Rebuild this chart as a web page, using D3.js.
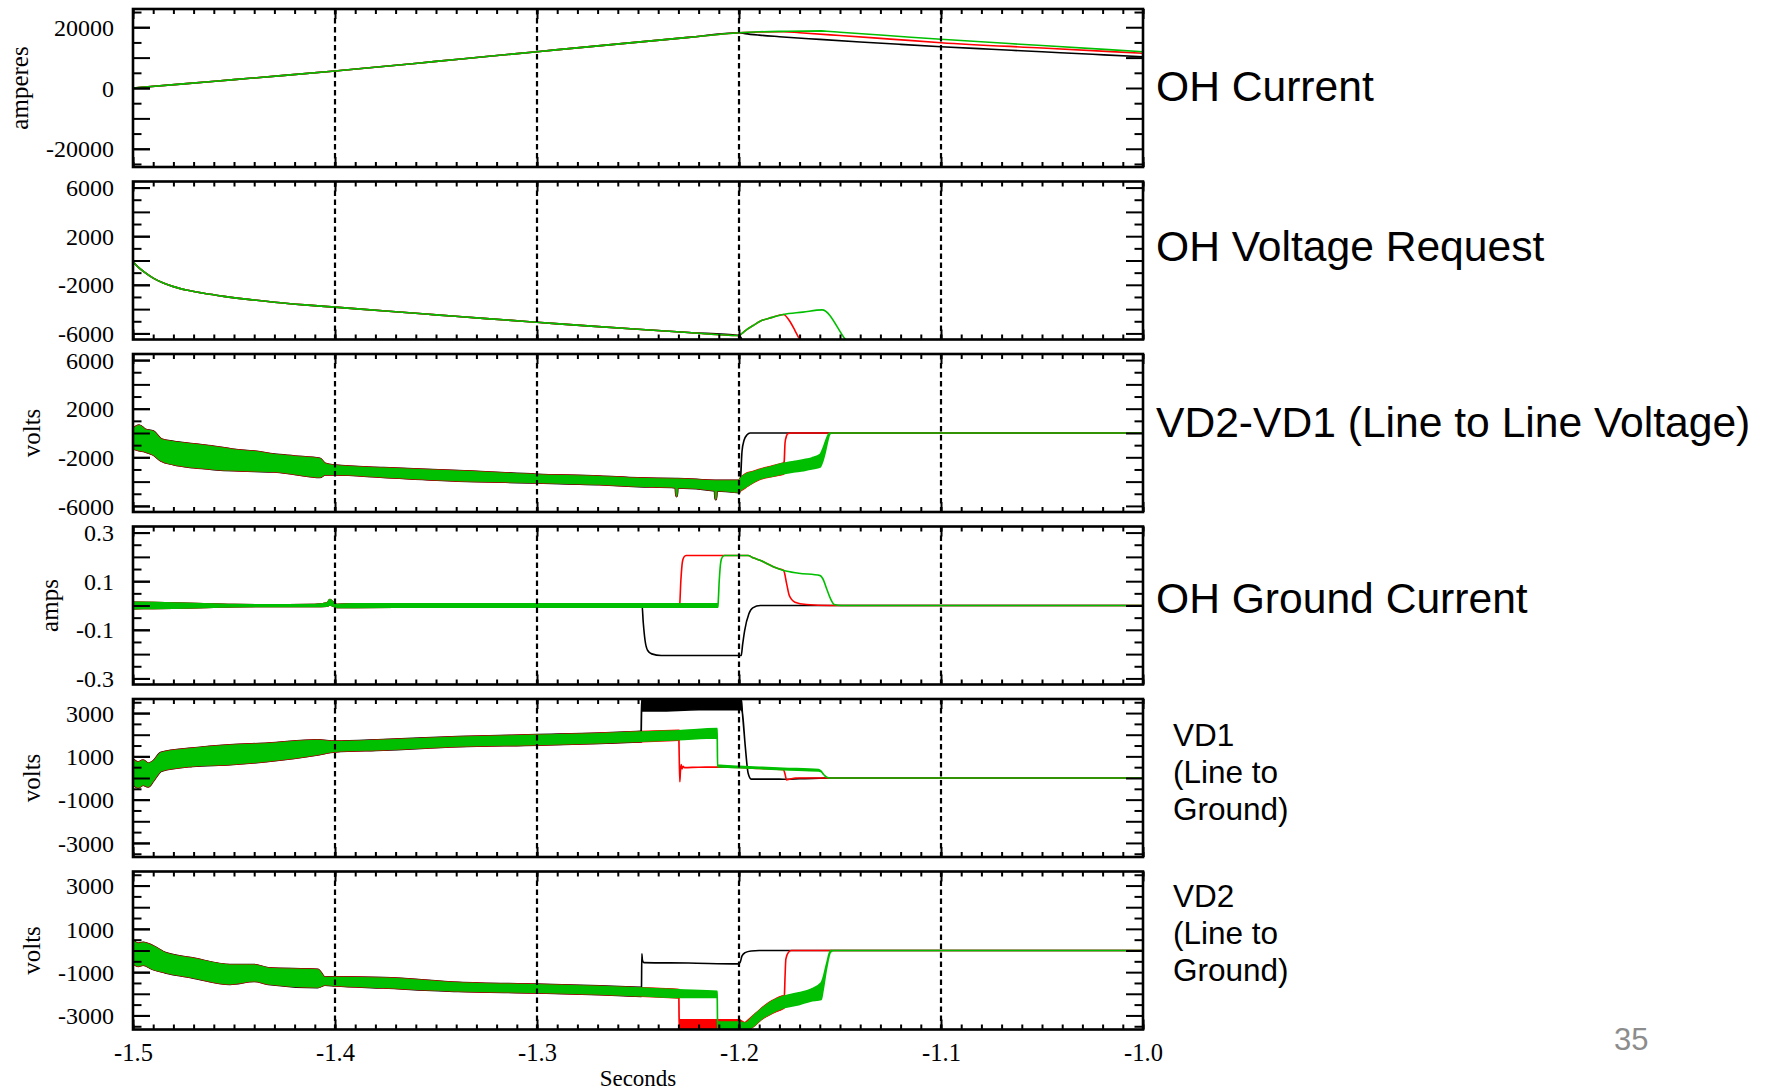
<!DOCTYPE html>
<html>
<head>
<meta charset="utf-8">
<script src="https://cdn.jsdelivr.net/npm/d3@7"></script>
<style>
  html, body { margin: 0; padding: 0; background: #ffffff; }
  svg { display: block; }
</style>
</head>
<body>
<svg id="chart" width="1770" height="1090"></svg>
<script>
// ---------------- time axis ----------------
const timeDomain = [-1.5, -1.0];
const timeTickLabels = [-1.5, -1.4, -1.3, -1.2, -1.1, -1.0];
const markerTimes = [-1.4, -1.3, -1.2, -1.1];

// ---------------- OH Current (amperes), [t, value] ----------------
const ohCurrentRange = [-26000, 26000];
const ohCurrentTickLabels = [-20000, 0, 20000];
const ohCurrentMajorTicks = [-20000, -10000, 0, 10000, 20000];
const ohCurrentMinorTicks = [-25000, -15000, -5000, 5000, 15000, 25000];
const ohCurrentRamp = [[-1.5, 0], [-1.475, 1350], [-1.45, 2750], [-1.425, 4150], [-1.4, 5600], [-1.375, 7150],
  [-1.35, 8750], [-1.325, 10350], [-1.3, 11950], [-1.275, 13550], [-1.25, 15100], [-1.225, 16650], [-1.2, 18200]];
const ohCurrentBlackTail = [[-1.197, 17900], [-1.19, 17400], [-1.18, 16890], [-1.16, 16000], [-1.14, 15150],
  [-1.12, 14350], [-1.1, 13590], [-1.075, 12750], [-1.05, 11920], [-1.025, 11100], [-1.0, 10300]];
const ohCurrentRedTail = [[-1.19, 18420], [-1.178, 18530], [-1.17, 18200], [-1.15, 17280], [-1.125, 16100],
  [-1.1, 14910], [-1.05, 13150], [-1.0, 11420]];
const ohCurrentGreenTail = [[-1.19, 18500], [-1.178, 18650], [-1.159, 18760], [-1.15, 18350], [-1.125, 17200],
  [-1.1, 16030], [-1.05, 13980], [-1.0, 11950]];

// ---------------- OH Voltage Request, [t, value] ----------------
const voltRange = [-6500, 6500];
const voltTickLabels = [-6000, -2000, 2000, 6000];
const voltMajorTicks = [-6000, -4000, -2000, 0, 2000, 4000, 6000];
const voltMinorTicks = [-5000, -3000, -1000, 1000, 3000, 5000];
const ohVoltageDecay = [[-1.5, -100], [-1.497, -600], [-1.494, -1000], [-1.49, -1450], [-1.485, -1850],
  [-1.48, -2150], [-1.473, -2450], [-1.465, -2700], [-1.455, -2950], [-1.443, -3200], [-1.43, -3430],
  [-1.415, -3650], [-1.4, -3840], [-1.375, -4160], [-1.35, -4470], [-1.325, -4780], [-1.3, -5080],
  [-1.275, -5380], [-1.25, -5660], [-1.225, -5930], [-1.2, -6170]];
const ohVoltageBlackTail = [[-1.199, -6350], [-1.198, -6800], [-1.196, -7600]];
const ohVoltageRise = [[-1.1985, -6000], [-1.1968, -5760], [-1.193, -5350], [-1.1893, -4980], [-1.184, -4700],
  [-1.178, -4440]];
const ohVoltageRedTail = [[-1.1751, -4940], [-1.1723, -5760], [-1.1699, -6530], [-1.168, -7200]];
const ohVoltageGreenTail = [[-1.1684, -4250], [-1.1589, -4060], [-1.1472, -6530], [-1.144, -7200]];

// ---------------- VD2-VD1 line-to-line voltage, [t, low, high] ----------------
const lineVoltagePreBand = [[-1.5, -1250, 300], [-1.497, -1400, 600], [-1.494, -1500, 250], [-1.49, -1750, 100],
  [-1.486, -2250, -550], [-1.48, -2550, -750], [-1.47, -2800, -950], [-1.46, -2950, -1150], [-1.45, -3050, -1400],
  [-1.44, -3100, -1550], [-1.43, -3150, -1800], [-1.42, -3350, -1950], [-1.4075, -3600, -2150],
  [-1.405, -3400, -2550], [-1.4, -3400, -2700], [-1.376, -3600, -2900], [-1.339, -3900, -3150],
  [-1.3, -4050, -3450], [-1.269, -4200, -3600], [-1.25, -4350, -3750], [-1.2312, -4450, -3800],
  [-1.2309, -5180, -3800], [-1.2306, -4450, -3800], [-1.2118, -4700, -3950], [-1.2115, -5430, -3950],
  [-1.2112, -4700, -3950], [-1.2, -4850, -3950]];
const lineVoltageRiseBand = [[-1.1995, -4750, -3800], [-1.1968, -4450, -3400], [-1.193, -4050, -3200],
  [-1.1893, -3750, -3000], [-1.1836, -3550, -2750], [-1.178, -3350, -2500]];
const lineVoltageGreenRiseBand = [[-1.173, -3200, -2350], [-1.168, -3100, -2200], [-1.164, -2950, -2050],
  [-1.1598, -2800, -1750]];
const lineVoltageBlackTail = [[-1.1995, -4400], [-1.1985, -1500], [-1.1975, -600], [-1.196, -150],
  [-1.1945, 0], [-1.0, 0]];
const lineVoltageRedTail = [[-1.1776, -2300], [-1.1772, -800], [-1.1765, -250], [-1.1757, -50], [-1.174, 0],
  [-1.0, 0]];
const lineVoltageGreenTail = [[-1.1585, -2300, -1300], [-1.1572, -1500, -700], [-1.156, -600, -200],
  [-1.1551, -100, 0], [-1.154, 0, 0], [-1.0, 0, 0]];

// ---------------- OH Ground Current (amps) ----------------
const ampRange = [-0.325, 0.325];
const ampTickLabels = [-0.3, -0.1, 0.1, 0.3];
const ampMajorTicks = [-0.3, -0.2, -0.1, 0, 0.1, 0.2, 0.3];
const ampMinorTicks = [-0.25, -0.15, -0.05, 0.05, 0.15, 0.25];
const groundRippleBand = [[-1.5, -0.013, 0.013], [-1.49, -0.012, 0.012], [-1.48, -0.011, 0.01],
  [-1.47, -0.009, 0.008], [-1.46, -0.007, 0.006], [-1.45, -0.005, 0.004], [-1.43, -0.004, 0.003],
  [-1.41, -0.004, 0.004], [-1.404, -0.003, 0.01], [-1.4025, 0.002, 0.024], [-1.401, -0.002, 0.014],
  [-1.399, -0.008, 0.004], [-1.39, -0.008, 0.007], [-1.35, -0.007, 0.007], [-1.3, -0.007, 0.007],
  [-1.25, -0.007, 0.007], [-1.23, -0.007, 0.007], [-1.2105, -0.007, 0.007]];
const groundBlackTail = [[-1.248, 0], [-1.2474, -0.07], [-1.2465, -0.144], [-1.2452, -0.185], [-1.2432, -0.199],
  [-1.2385, -0.206], [-1.1989, -0.206], [-1.1982, -0.16], [-1.1972, -0.103], [-1.1951, -0.034],
  [-1.1932, -0.0096], [-1.1894, 0], [-1.0, 0]];
const groundRedTail = [[-1.2294, 0], [-1.2288, 0.1], [-1.228, 0.18], [-1.2272, 0.2], [-1.2262, 0.2057],
  [-1.1955, 0.2057], [-1.193, 0.196], [-1.1893, 0.185], [-1.1855, 0.17], [-1.1817, 0.155], [-1.1779, 0.144],
  [-1.1764, 0.089], [-1.1751, 0.041], [-1.1723, 0.0137], [-1.1666, 0.004], [-1.1551, 0], [-1.0, 0]];
const groundGreenTail = [[-1.2104, 0], [-1.2098, 0.1], [-1.209, 0.18], [-1.2082, 0.2], [-1.2072, 0.2057],
  [-1.1955, 0.2057], [-1.193, 0.196], [-1.1893, 0.185], [-1.1855, 0.17], [-1.1817, 0.155], [-1.1779, 0.144],
  [-1.1704, 0.133], [-1.1598, 0.123], [-1.1585, 0.11], [-1.1566, 0.069], [-1.1547, 0.028], [-1.1528, 0.004],
  [-1.1494, 0], [-1.0, 0]];

// ---------------- VD1 / VD2 line-to-ground voltage ----------------
const groundVoltRange = [-3650, 3650];
const groundVoltTickLabels = [-3000, -1000, 1000, 3000];
const groundVoltMajorTicks = [-3000, -2000, -1000, 0, 1000, 2000, 3000];
const groundVoltMinorTicks = [-3500, -2500, -1500, -500, 500, 1500, 2500, 3500];

const vd1PreBand = [[-1.5, -250, 830], [-1.4975, -420, 700], [-1.495, -300, 800], [-1.4925, -380, 650],
  [-1.49, -100, 750], [-1.486, 350, 1150], [-1.4706, 570, 1350], [-1.452, 650, 1500], [-1.433, 800, 1580],
  [-1.4086, 1100, 1730], [-1.4, 1240, 1670], [-1.376, 1320, 1740], [-1.339, 1480, 1880], [-1.3, 1550, 1970],
  [-1.269, 1630, 2040], [-1.2485, 1700, 2120], [-1.2298, 1770, 2180], [-1.2108, 1850, 2280]];
const vd1BlackHighBand = [[-1.2482, 3100, 3600], [-1.24, 3100, 3620], [-1.22, 3150, 3620], [-1.1988, 3150, 3620]];
const vd1BlackTail = [[-1.1983, 3000], [-1.1969, 1460], [-1.1955, 230], [-1.194, -50], [-1.18, -50],
  [-1.176, -60], [-1.17, -30], [-1.16, -10], [-1.155, 0], [-1.0, 0]];
const vd1RedTail = [[-1.2296, 1000], [-1.2293, -170], [-1.229, 300], [-1.2286, 620], [-1.2282, 420],
  [-1.2277, 540], [-1.227, 480], [-1.22, 500], [-1.21, 505], [-1.2, 490], [-1.19, 440], [-1.178, 380],
  [-1.177, 100], [-1.1765, -90], [-1.175, -60], [-1.172, 0], [-1.0, 0]];
const vd1GreenTail = [[-1.2106, 520, 600], [-1.2, 480, 545], [-1.19, 440, 500], [-1.178, 380, 450],
  [-1.1606, 320, 390], [-1.1595, 300, 330], [-1.158, 150, 150], [-1.1565, 30, 30], [-1.155, 0, 0], [-1.0, 0, 0]];

const vd2PreBand = [[-1.5, -570, 430], [-1.4975, -700, 300], [-1.495, -650, 350], [-1.49, -850, 180],
  [-1.484, -1000, -130], [-1.4706, -1230, -370], [-1.452, -1530, -680], [-1.44, -1400, -680],
  [-1.433, -1530, -830], [-1.4086, -1680, -900], [-1.405, -1570, -1260], [-1.4, -1600, -1250],
  [-1.376, -1700, -1280], [-1.339, -1860, -1500], [-1.3, -1930, -1590], [-1.269, -2010, -1670],
  [-1.2485, -2090, -1740], [-1.2298, -2170, -1820], [-1.2108, -2170, -1890]];
const vd2BlackTail = [[-1.2483, -1900], [-1.2481, -150], [-1.2478, -450], [-1.247, -560], [-1.225, -580],
  [-1.2005, -620], [-1.1995, -560], [-1.1985, -250], [-1.197, -100], [-1.194, -20], [-1.19, 0], [-1.0, 0]];
const vd2RedLowBand = [[-1.2296, -3650, -3200], [-1.2, -3650, -3200]];
const vd2GreenLowBand = [[-1.2106, -3650, -3300], [-1.2, -3650, -3300]];
const vd2RiseBand = [[-1.1968, -3650, -3350], [-1.193, -3500, -3040], [-1.1893, -3190, -2730],
  [-1.1836, -2880, -2340], [-1.1779, -2650, -2110]];
const vd2RedTail = [[-1.1776, -2300], [-1.1772, -1200], [-1.1768, -400], [-1.1755, -80], [-1.174, 0], [-1.0, 0]];
const vd2GreenRiseBand = [[-1.1704, -2500, -1950], [-1.1646, -2340, -1800], [-1.1593, -2260, -1490]];
const vd2GreenTail = [[-1.1585, -1900, -1300], [-1.1566, -800, -600], [-1.1547, -80, 0], [-1.153, 0, 0],
  [-1.0, 0, 0]];

// ---------------- helpers to assemble traces ----------------
// every trace becomes [t, low, high]; a plain line has low == high
const asBand = pts => pts.map(p => p.length === 3 ? p : [p[0], p[1], p[1]]);
const before = (pts, t) => pts.filter(p => p[0] < t);
const join = (...parts) => parts.flatMap(asBand);

const traceColors = ["#000000", "#ff0000", "#00bf00"];
const traceWidth = 1.6;
// where the three noisy traces overlap, the black and red ones peek out around the green one
const fringeWidths = [3.1, 2.5];

const panels = [
  { range: ohCurrentRange, labels: ohCurrentTickLabels, major: ohCurrentMajorTicks, minor: ohCurrentMinorTicks,
    yTitle: "amperes", fringe: [],
    traces: [join(ohCurrentRamp, ohCurrentBlackTail), join(ohCurrentRamp, ohCurrentRedTail),
             join(ohCurrentRamp, ohCurrentGreenTail)],
    title: ["OH Current"], big: true, baselines: [100.5] },
  { range: voltRange, labels: voltTickLabels, major: voltMajorTicks, minor: voltMinorTicks,
    yTitle: "", fringe: [],
    traces: [join(ohVoltageDecay, ohVoltageBlackTail), join(ohVoltageDecay, ohVoltageRise, ohVoltageRedTail),
             join(ohVoltageDecay, ohVoltageRise, ohVoltageGreenTail)],
    title: ["OH Voltage Request"], big: true, baselines: [261] },
  { range: voltRange, labels: voltTickLabels, major: voltMajorTicks, minor: voltMinorTicks,
    yTitle: "volts",
    fringe: [[0, lineVoltagePreBand], [1, lineVoltagePreBand], [1, lineVoltageRiseBand]],
    traces: [join(lineVoltagePreBand, lineVoltageBlackTail),
             join(lineVoltagePreBand, lineVoltageRiseBand, lineVoltageRedTail),
             join(lineVoltagePreBand, lineVoltageRiseBand, lineVoltageGreenRiseBand, lineVoltageGreenTail)],
    title: ["VD2-VD1 (Line to Line Voltage)"], big: true, baselines: [437] },
  { range: ampRange, labels: ampTickLabels, major: ampMajorTicks, minor: ampMinorTicks,
    yTitle: "amps", fringe: [],
    traces: [join(before(groundRippleBand, -1.248), groundBlackTail),
             join(before(groundRippleBand, -1.2294), groundRedTail),
             join(before(groundRippleBand, -1.2104), groundGreenTail)],
    title: ["OH Ground Current"], big: true, baselines: [613] },
  { range: groundVoltRange, labels: groundVoltTickLabels, major: groundVoltMajorTicks, minor: groundVoltMinorTicks,
    yTitle: "volts",
    fringe: [[0, before(vd1PreBand, -1.2484)], [1, before(vd1PreBand, -1.2297)]],
    traces: [join(before(vd1PreBand, -1.2484), vd1BlackHighBand, vd1BlackTail),
             join(before(vd1PreBand, -1.2297), vd1RedTail),
             join(vd1PreBand, vd1GreenTail)],
    title: ["VD1", "(Line to", "Ground)"], big: false, baselines: [746, 783, 820] },
  { range: groundVoltRange, labels: groundVoltTickLabels, major: groundVoltMajorTicks, minor: groundVoltMinorTicks,
    yTitle: "volts",
    fringe: [[0, before(vd2PreBand, -1.2484)], [1, before(vd2PreBand, -1.2297)], [1, vd2RiseBand]],
    traces: [join(before(vd2PreBand, -1.2484), vd2BlackTail),
             join(before(vd2PreBand, -1.2297), vd2RedLowBand, vd2RiseBand, vd2RedTail),
             join(vd2PreBand, vd2GreenLowBand, vd2RiseBand, vd2GreenRiseBand, vd2GreenTail)],
    title: ["VD2", "(Line to", "Ground)"], big: false, baselines: [906.5, 944, 981] }
];

// ---------------- layout ----------------
const plotLeft = 133, plotRight = 1143;
const firstTop = 9, panelH = 158, panelStep = 172.5;
const serif = "Liberation Serif, Times New Roman, serif";
const sans = "Liberation Sans, Arial, Helvetica, sans-serif";

const svg = d3.select("#chart");
svg.append("rect").attr("width", 1770).attr("height", 1090).attr("fill", "#ffffff");

const x = d3.scaleLinear().domain(timeDomain).range([plotLeft, plotRight]);
const minorTimes = x.ticks(50);

panels.forEach((p, i) => {
  const top = firstTop + i * panelStep;
  const bottom = top + panelH;
  const y = d3.scaleLinear().domain(p.range).range([bottom, top]);
  const g = svg.append("g");

  // clip region for the traces
  const clipId = "clip" + i;
  svg.append("clipPath").attr("id", clipId)
    .append("rect").attr("x", plotLeft).attr("y", top)
    .attr("width", plotRight - plotLeft).attr("height", panelH);

  const area = d3.area()
    .x(d => x(d[0])).y0(d => y(d[1])).y1(d => y(d[2]))
    .curve(d3.curveMonotoneX);

  const dataG = g.append("g").attr("clip-path", `url(#${clipId})`);
  // wider outlines of the black and red noise bands underneath
  p.fringe.forEach(([k, band]) => {
    dataG.append("path")
      .attr("d", area(band))
      .attr("fill", traceColors[k])
      .attr("stroke", traceColors[k])
      .attr("stroke-width", fringeWidths[k])
      .attr("stroke-linejoin", "round");
  });
  p.traces.forEach((tr, k) => {
    dataG.append("path")
      .attr("d", area(tr))
      .attr("fill", traceColors[k])
      .attr("stroke", traceColors[k])
      .attr("stroke-width", traceWidth)
      .attr("stroke-linejoin", "round");
  });

  // dashed time markers
  g.selectAll("line.marker").data(markerTimes).join("line")
    .attr("x1", d => x(d)).attr("x2", d => x(d))
    .attr("y1", top).attr("y2", bottom)
    .attr("stroke", "#000").attr("stroke-width", 2.2)
    .attr("stroke-dasharray", "5.5,3.5");

  // y axes: labelled ticks on the left, long + short ticks on both sides
  const styleAxis = sel => {
    sel.select(".domain").remove();
    sel.selectAll(".tick line").attr("stroke-width", 2);
  };
  const leftLab = g.append("g").attr("transform", `translate(${plotLeft},0)`)
    .call(d3.axisLeft(y).tickValues(p.labels).tickSize(-17).tickPadding(19).tickFormat(d => String(d)))
    .call(styleAxis)
    .attr("font-family", serif).attr("font-size", 24);
  leftLab.selectAll("text").attr("fill", "#000").attr("dy", "0.34em");

  [[d3.axisLeft, plotLeft], [d3.axisRight, plotRight]].forEach(([axisFn, xPos]) => {
    g.append("g").attr("transform", `translate(${xPos},0)`)
      .call(axisFn(y).tickValues(p.major).tickSize(-17).tickFormat(""))
      .call(styleAxis);
    g.append("g").attr("transform", `translate(${xPos},0)`)
      .call(axisFn(y).tickValues(p.minor).tickSize(-8.5).tickFormat(""))
      .call(styleAxis);
  });

  // x axes: ticks along top and bottom of every panel
  [[d3.axisTop, top], [d3.axisBottom, bottom]].forEach(([axisFn, yPos]) => {
    g.append("g").attr("transform", `translate(0,${yPos})`)
      .call(axisFn(x).tickValues(timeTickLabels).tickSize(-10).tickFormat(""))
      .call(styleAxis);
    g.append("g").attr("transform", `translate(0,${yPos})`)
      .call(axisFn(x).tickValues(minorTimes).tickSize(-5).tickFormat(""))
      .call(styleAxis);
  });

  // frame
  g.append("rect")
    .attr("x", plotLeft).attr("y", top)
    .attr("width", plotRight - plotLeft).attr("height", panelH)
    .attr("fill", "none").attr("stroke", "#000").attr("stroke-width", 2.6);

  // vertical axis title
  if (p.yTitle) {
    const bb = leftLab.node().getBBox();
    const bx = plotLeft + bb.x - 18;
    g.append("text")
      .attr("transform", `translate(${bx},${(top + bottom) / 2}) rotate(-90)`)
      .attr("text-anchor", "middle")
      .attr("font-family", serif).attr("font-size", 25)
      .attr("fill", "#000")
      .text(p.yTitle);
  }

  // panel caption on the right
  const tx = p.big ? 1156 : 1173;
  p.title.forEach((line, j) => {
    g.append("text")
      .attr("x", tx).attr("y", p.baselines[j])
      .attr("font-family", sans).attr("font-size", p.big ? 42.6 : 31.5)
      .attr("fill", "#000")
      .text(line);
  });

  // time labels under the last panel
  if (i === panels.length - 1) {
    const xl = g.append("g").attr("transform", `translate(0,${bottom})`)
      .call(d3.axisBottom(x).tickValues(timeTickLabels).tickSize(0).tickFormat(d => d.toFixed(1)))
      .call(sel => sel.select(".domain").remove())
      .attr("font-family", serif).attr("font-size", 24.5);
    xl.selectAll("text").attr("fill", "#000").attr("dy", null).attr("y", 31.5);
    g.append("text")
      .attr("x", x(-1.25)).attr("y", 1086)
      .attr("text-anchor", "middle")
      .attr("font-family", serif).attr("font-size", 23)
      .attr("fill", "#000")
      .text("Seconds");
  }
});

// slide number
svg.append("text")
  .attr("x", 1614).attr("y", 1050)
  .attr("font-family", sans).attr("font-size", 31)
  .attr("fill", "#8c8c8c")
  .text("35");
</script>
</body>
</html>
